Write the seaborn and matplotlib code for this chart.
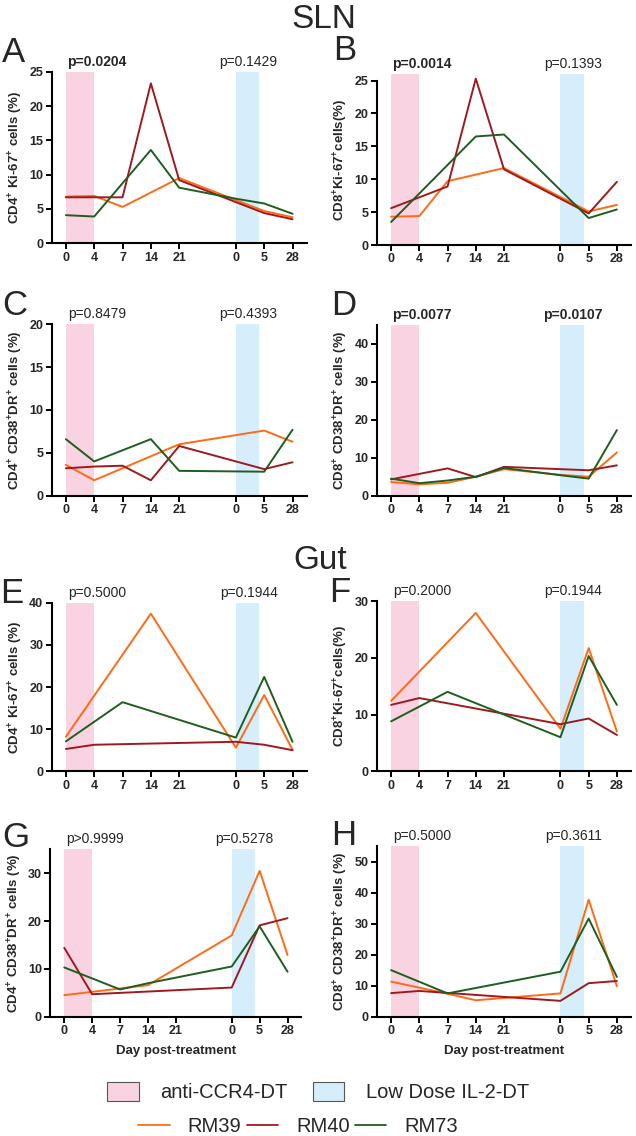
import numpy as np
import pandas as pd
import seaborn as sns
import matplotlib.pyplot as plt
from matplotlib.patches import Patch
from matplotlib.lines import Line2D

nan = np.nan

# x axis: two treatment phases, drawn as categorical slots with a gap
day_labels = ["0", "4", "7", "14", "21", "0", "5", "28"]
day_slots = [0, 1, 2, 3, 4, 6, 7, 8]
subjects = ["RM39", "RM40", "RM73"]

# values (%), nan = no point at that day
sln_cd4_ki67 = {
    "RM39": [6.8, 6.9, 5.3, nan, 9.5, nan, 4.7, 3.8],
    "RM40": [6.7, 6.7, 6.7, 23.3, 9.2, nan, 4.4, 3.5],
    "RM73": [4.1, 3.9, nan, 13.6, 8.1, 6.5, 5.8, 4.3],
}
sln_cd8_ki67 = {
    "RM39": [4.3, 4.4, 9.7, nan, 11.7, nan, 5.1, 6.1],
    "RM40": [5.6, nan, 8.9, 25.3, 11.5, nan, 4.8, 9.6],
    "RM73": [3.5, nan, nan, 16.5, 16.8, nan, 4.1, 5.4],
}
sln_cd4_act = {
    "RM39": [3.6, 1.8, nan, nan, 6.0, nan, 7.6, 6.3],
    "RM40": [3.2, 3.4, 3.5, 1.8, 5.8, nan, 3.1, 3.9],
    "RM73": [6.6, 4.0, nan, 6.6, 2.9, nan, 2.8, 7.7],
}
sln_cd8_act = {
    "RM39": [3.6, 3.0, 3.4, 5.0, 7.0, 5.5, 5.0, 11.4],
    "RM40": [4.3, nan, 7.2, 4.9, 7.6, nan, 6.7, 8.0],
    "RM73": [4.5, 3.3, 4.0, 5.0, 7.3, 5.4, 4.5, 17.3],
}
gut_cd4_ki67 = {
    "RM39": [8.2, nan, nan, 37.4, nan, 5.6, 18.1, 5.1],
    "RM40": [5.3, 6.3, nan, nan, nan, 7.0, 6.3, 5.0],
    "RM73": [7.1, nan, 16.4, nan, nan, 8.0, 22.4, 7.0],
}
gut_cd8_ki67 = {
    "RM39": [12.4, nan, nan, 27.9, nan, 7.5, 21.7, 7.0],
    "RM40": [11.7, 12.9, nan, nan, nan, 8.3, 9.3, 6.4],
    "RM73": [8.8, nan, 14.0, nan, nan, 6.0, 20.3, 11.7],
}
gut_cd4_act = {
    "RM39": [4.5, nan, nan, 6.6, nan, 17.0, 30.5, 12.9],
    "RM40": [14.4, 4.7, nan, nan, nan, 6.1, 19.1, 20.6],
    "RM73": [10.3, nan, 5.7, 7.0, nan, 10.5, 18.9, 9.4],
}
gut_cd8_act = {
    "RM39": [11.3, nan, 7.4, 5.3, nan, 7.5, 37.7, 9.8],
    "RM40": [7.6, 8.3, nan, nan, nan, 5.1, 10.8, 11.5],
    "RM73": [15.0, nan, 7.5, nan, nan, 14.5, 31.6, 12.8],
}

p_values = {
    "A": ("p=0.0204", "p=0.1429"), "B": ("p=0.0014", "p=0.1393"),
    "C": ("p=0.8479", "p=0.4393"), "D": ("p=0.0077", "p=0.0107"),
    "E": ("p=0.5000", "p=0.1944"), "F": ("p=0.2000", "p=0.1944"),
    "G": ("p>0.9999", "p=0.5278"), "H": ("p=0.5000", "p=0.3611"),
}
p_bold = {"A": (True, False), "B": (True, False), "D": (True, True)}

sup = r"$^{\mathbf{+}}$"
lab_cd4_ki = f"CD4{sup} Ki-67{sup} cells (%)"
lab_cd8_ki = f"CD8{sup}Ki-67{sup}cells(%)"
lab_cd4_act = f"CD4{sup} CD38{sup}DR{sup} cells (%)"
lab_cd8_act = f"CD8{sup} CD38{sup}DR{sup} cells (%)"

colors = {"RM39": "#FF6A16", "RM40": "#9E1A1E", "RM73": "#1E5E1E"}
pink = "#F9D3E1"
blue = "#D6EEFB"

sns.set_style("ticks")
plt.rcParams["font.family"] = ["Liberation Sans", "DejaVu Sans"]
plt.rcParams["mathtext.fontset"] = "custom"
plt.rcParams["mathtext.rm"] = "Liberation Sans"
plt.rcParams["mathtext.bf"] = "Liberation Sans:bold"

W, H = 636, 1136
fig = plt.figure(figsize=(W / 100, H / 100), dpi=100)


def rect(left, top, right, bottom):
    return [left / W, 1 - bottom / H, (right - left) / W, (bottom - top) / H]


# letter, data, ylabel, ylim, yticks, axes box (px), spine top
panels = [
    ("A", sln_cd4_ki67, lab_cd4_ki, 25, np.arange(0, 26, 5), (51.7, 71.7, 306.7, 243.3), 25),
    ("B", sln_cd8_ki67, lab_cd8_ki, 26, np.arange(0, 26, 5), (377, 74, 631, 245), 25),
    ("C", sln_cd4_act, lab_cd4_act, 20, np.arange(0, 21, 5), (51.7, 324.3, 306.7, 495.7), 20),
    ("D", sln_cd8_act, lab_cd8_act, 45, np.arange(0, 41, 10), (377, 325, 631, 495.7), 45),
    ("E", gut_cd4_ki67, lab_cd4_ki, 40, np.arange(0, 41, 10), (51.7, 602.7, 306.7, 771.3), 40),
    ("F", gut_cd8_ki67, lab_cd8_ki, 30, np.arange(0, 31, 10), (377, 601, 631, 771.3), 30),
    ("G", gut_cd4_act, lab_cd4_act, 35, np.arange(0, 31, 10), (50.3, 849.3, 301.5, 1016.7), 35),
    ("H", gut_cd8_act, lab_cd8_act, 55, np.arange(0, 51, 10), (377, 846, 631, 1016.7), 55),
]
letter_pos = {"A": (2, 62), "B": (333, 60), "C": (2, 315), "D": (331, 315),
              "E": (0, 603), "F": (329, 602), "G": (2, 847), "H": (331, 845)}

for letter, data, ylabel, ytop, yticks, box, spine_top in panels:
    ax = fig.add_axes(rect(*box))
    rows = []
    for s in subjects:
        for slot, v in zip(day_slots, data[s]):
            rows.append({"subject": s, "slot": slot, "value": v})
    df = pd.DataFrame(rows).dropna()

    ax.axvspan(0, 1, color=pink, lw=0, zorder=0)
    ax.axvspan(6, 6.82, color=blue, lw=0, zorder=0)
    sns.lineplot(data=df, x="slot", y="value", hue="subject", palette=colors,
                 hue_order=subjects, estimator=None, sort=True, legend=False,
                 linewidth=1.4, ax=ax)

    ax.set_xlim(-0.5, 8.5)
    ax.set_ylim(0, ytop)
    ax.set_xticks(day_slots)
    ax.set_xticklabels(day_labels)
    ax.set_yticks(yticks)
    ax.set_ylabel(ylabel, fontsize=9.5, fontweight="bold", labelpad=3)
    if letter in ("G", "H"):
        ax.set_xlabel("Day post-treatment", fontsize=9.5, fontweight="bold", labelpad=6)
    else:
        ax.set_xlabel("")
    for lab in ax.get_xticklabels() + ax.get_yticklabels():
        lab.set_fontweight("bold")
    ax.tick_params(labelsize=9, width=1.4, length=4, pad=2, color="black")
    sns.despine(ax=ax)
    for sp in ("left", "bottom"):
        ax.spines[sp].set_linewidth(1.5)
        ax.spines[sp].set_color("black")
    ax.spines["left"].set_bounds(0, spine_top)

    bold = p_bold.get(letter, (False, False))
    for xc, txt, b in zip((1.1, 6.45), p_values[letter], bold):
        ax.annotate(txt, xy=(xc, 1), xycoords=("data", "axes fraction"),
                    xytext=(0, 6), textcoords="offset pixels", ha="center",
                    va="baseline", fontsize=10,
                    fontweight="bold" if b else "normal", annotation_clip=False)

    lx, ly = letter_pos[letter]
    fig.text(lx / W, 1 - ly / H, letter, fontsize=25, va="baseline", ha="left")

fig.text(324 / W, 1 - 28 / H, "SLN", fontsize=24, ha="center", va="baseline")
fig.text(320 / W, 1 - 569 / H, "Gut", fontsize=24, ha="center", va="baseline")

band_handles = [Patch(facecolor=pink, edgecolor="#555555", linewidth=0.8, label="anti-CCR4-DT"),
                Patch(facecolor=blue, edgecolor="#555555", linewidth=0.8, label="Low Dose IL-2-DT")]
fig.legend(handles=band_handles, loc="center", bbox_to_anchor=(318 / W, 1 - 1091.7 / H),
           ncol=2, frameon=False, fontsize=14.5, handlelength=1.58, handleheight=1.08,
           handletextpad=1.05, columnspacing=1.25, borderpad=0, borderaxespad=0)

line_handles = [Line2D([], [], color=colors[s], lw=1.3, label=s) for s in subjects]
fig.legend(handles=line_handles, loc="center", bbox_to_anchor=(298 / W, 1 - 1126.7 / H),
           ncol=3, frameon=False, fontsize=14.5, handlelength=1.55,
           handletextpad=0.9, columnspacing=0.25, borderpad=0, borderaxespad=0)

fig.savefig("out.png", dpi=100)
